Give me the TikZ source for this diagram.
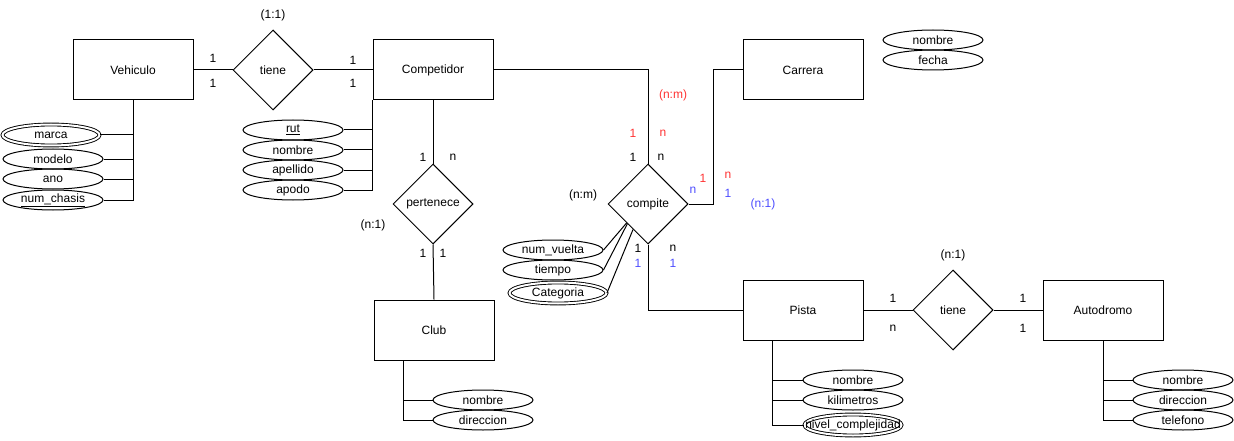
\documentclass[tikz,border=0pt]{standalone}
\usepackage{fontspec}
\setmainfont{Liberation Sans}
\usetikzlibrary{shapes.geometric,calc}
\definecolor{cred}{HTML}{FF3333}
\definecolor{cblue}{HTML}{4D4DFF}
\tikzset{
  every node/.style={font=\fontsize{12}{14}\selectfont},
  ent/.style={draw, rectangle, minimum width=120pt, minimum height=60pt, inner sep=0pt, line width=1pt},
  rel/.style={draw, diamond, minimum width=80pt, minimum height=80pt, inner sep=0pt, line width=1pt},
  attr/.style={draw, ellipse, minimum width=100pt, minimum height=20pt, inner sep=0pt, line width=1pt, label={center:#1}},
  dattr/.style={attr={#1}, double, double distance=2pt, line width=0.9pt, minimum height=21pt, minimum width=97pt},
  conn/.style={line width=1pt},
  lbl/.style={inner sep=0pt},
}
\begin{document}
\begin{tikzpicture}[x=1pt,y=-1pt]
\useasboundingbox (0,0) rectangle (1234,441);
% entities
\node[ent] (veh) at (133,70) {Vehiculo};
\node[ent] (comp) at (433,70) {Competidor};
\node[ent] (carr) at (803,70) {Carrera};
\node[ent] (club) at (434,330) {Club};
\node[ent] (pista) at (803,310) {Pista};
\node[ent] (auto) at (1103,310) {Autodromo};
% relations
\node[rel] (tiene1) at (273,70) {tiene};
\node[rel] (pert) at (433,204) {pertenece};
\node[rel] (compite) at (648,204) {compite};
\node[rel] (tiene2) at (953,310) {tiene};
% attributes
\node[dattr={marca}] (vmarca) at (51,135) {};
\node[attr={modelo}] (vmodelo) at (53,159) {};
\node[attr={ano}] (vano) at (53,179) {};
\node[attr={\underline{num\_chasis}}] (vchasis) at (53,200) {};
\node[attr={\underline{rut}}] (crut) at (293,130) {};
\node[attr={nombre}] (cnombre) at (293,150) {};
\node[attr={apellido}] (capellido) at (293,170) {};
\node[attr={apodo}] (capodo) at (293,190) {};
\node[attr={nombre}] (knombre) at (933,40) {};
\node[attr={fecha}] (kfecha) at (933,60) {};
\node[attr={nombre}] (lnombre) at (483,400) {};
\node[attr={direccion}] (ldireccion) at (483,420) {};
\node[attr={num\_vuelta}] (mvuelta) at (553,250) {};
\node[attr={tiempo}] (mtiempo) at (553,270) {};
\node[dattr={Categoria}] (mcat) at (558,293) {};
\node[attr={nombre}] (pnombre) at (853,380) {};
\node[attr={kilimetros}] (pkm) at (853,400) {};
\node[dattr={nivel\_complejidad}] (pnivel) at (853,425) {};
\node[attr={nombre}] (anombre) at (1183,380) {};
\node[attr={direccion}] (adireccion) at (1183,400) {};
\node[attr={telefono}] (atelefono) at (1183,420) {};
% connectors
\draw[conn] (veh.east) -- (tiene1.west);
\draw[conn] (tiene1.east) -- (comp.west);
\draw[conn] (veh.south) |- (vmarca.east);
\draw[conn] (veh.south) |- (vmodelo.east);
\draw[conn] (veh.south) |- (vano.east);
\draw[conn] (veh.south) |- (vchasis.east);
\draw[conn] (comp.south west) |- (crut.east);
\draw[conn] (comp.south west) |- (cnombre.east);
\draw[conn] (comp.south west) |- (capellido.east);
\draw[conn] (comp.south west) |- (capodo.east);
\draw[conn] (comp.south) -- (pert.north);
\draw[conn] (pert.south) -- (club.north);
\coordinate (clubattr) at ($(club.south west)+(30,0)$);
\draw[conn] (clubattr) |- (lnombre.west);
\draw[conn] (clubattr) |- (ldireccion.west);
\draw[conn] (comp.east) -| (compite.north);
\coordinate (carrbend) at (713,70);
\draw[conn] (carr.west) -- (carrbend) |- (compite.east);
\draw[conn] (compite.south) |- (pista.west);
\draw[conn] (mvuelta.east) -- ($(compite.west)!0.47!(compite.south)$);
\draw[conn] (mtiempo.east) -- ($(compite.west)!0.49!(compite.south)$);
\draw[conn] (mcat.east) -- ($(compite.west)!0.63!(compite.south)$);
\draw[conn] (pista.east) -- (tiene2.west);
\draw[conn] (tiene2.east) -- (auto.west);
\coordinate (pistaattr) at ($(pista.south west)+(30,0)$);
\draw[conn] (pistaattr) |- (pnombre.west);
\draw[conn] (pistaattr) |- (pkm.west);
\draw[conn] (pistaattr) |- (pnivel.west);
\draw[conn] (auto.south) |- (anombre.west);
\draw[conn] (auto.south) |- (adireccion.west);
\draw[conn] (auto.south) |- (atelefono.west);
% cardinality labels
\node[lbl] (l11) at (273,15) {(1:1)};
\node[lbl] (lva) at (213,58) {1};
\node[lbl] (lvb) at (213,83) {1};
\node[lbl] (lca) at (353,60) {1};
\node[lbl] (lcb) at (353,83) {1};
\node[lbl] (lpa) at (423,157) {1};
\node[lbl] (lpb) at (453,157) {n};
\node[lbl] (lpr) at (373,225) {(n:1)};
\node[lbl] (lpc) at (423,253) {1};
\node[lbl] (lpd) at (443,253) {1};
\node[lbl, text=cred] (rnm) at (673,95) {(n:m)};
\node[lbl, text=cred] (r1) at (633,133) {1};
\node[lbl, text=cred] (rn) at (663,133) {n};
\node[lbl] (k1) at (633,157) {1};
\node[lbl] (kn) at (661,157) {n};
\node[lbl] (knm) at (583,195) {(n:m)};
\node[lbl, text=cblue] (bn) at (693,190) {n};
\node[lbl, text=cred] (r1b) at (703,178) {1};
\node[lbl, text=cred] (rnb) at (728,175) {n};
\node[lbl, text=cblue] (b1) at (728,193) {1};
\node[lbl, text=cblue] (bn1) at (763,204) {(n:1)};
\node[lbl] (k1c) at (638,248) {1};
\node[lbl] (knc) at (673,248) {n};
\node[lbl, text=cblue] (b1c) at (638,263) {1};
\node[lbl, text=cblue] (b1d) at (673,263) {1};
\node[lbl] (tn1) at (953,255) {(n:1)};
\node[lbl] (ta) at (893,298) {1};
\node[lbl] (tb) at (893,328) {n};
\node[lbl] (tc) at (1023,298) {1};
\node[lbl] (td) at (1023,328) {1};
\end{tikzpicture}
\end{document}
